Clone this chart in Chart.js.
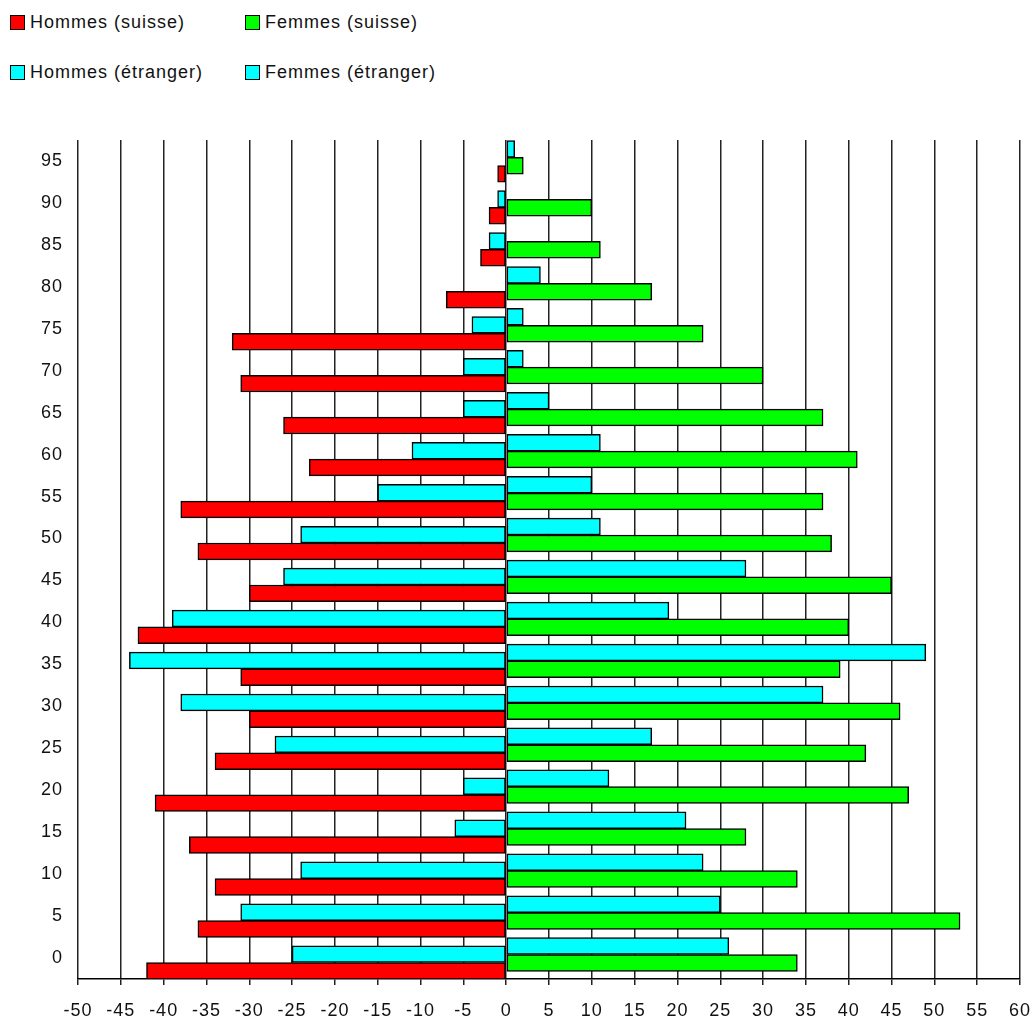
<!DOCTYPE html>
<html lang="fr">
<head>
  <meta charset="UTF-8">
  <title>Pyramide des âges</title>
  <script src="https://cdn.jsdelivr.net/npm/chart.js"></script>
  <style>
    body {
      margin: 0;
      background: #ffffff;
      font-family: 'Liberation Sans', Arial, sans-serif;
      overflow: hidden;
    }
    #wrap {
      position: relative;
      width: 1034px;
      height: 1019px;
    }
    #chart {
      position: absolute;
      left: 0;
      top: 0;
    }
    /* legend: 2 columns, 2 rows */
    #legend {
      position: absolute;
      left: 10px;
      top: 12px;
      display: grid;
      grid-template-columns: 235px 235px;
      grid-auto-rows: 50px;
    }
    .item {
      display: flex;
      align-items: flex-start;
      height: 20px;
      font-size: 18px;
      line-height: 20px;
      letter-spacing: 1px;
      color: #111;
      white-space: nowrap;
    }
    .item .box {
      width: 13px;
      height: 13px;
      border: 1px solid #000;
      margin: 3px 5px 0 0;
    }
  </style>
</head>
<body>
<div id="wrap">
  <div id="legend"></div>
  <canvas id="chart" width="1034" height="1019"></canvas>
</div>

<script>
  // classes d'âge (axe vertical)
  const ages = [0, 5, 10, 15, 20, 25, 30, 35, 40, 45, 50, 55, 60, 65, 70, 75, 80, 85, 90, 95];

  // hommes à gauche (valeurs négatives), femmes à droite
  const hommesSuisse   = [-42, -36, -34, -37, -41, -34, -30, -31, -43, -30, -36, -38, -23, -26, -31, -32, -7, -3, -2, -1];
  const hommesEtranger = [-25, -31, -24, -6, -5, -27, -38, -44, -39, -26, -24, -15, -11, -5, -5, -4, 0, -2, -1, 0];
  const femmesSuisse   = [34, 53, 34, 28, 47, 42, 46, 39, 40, 45, 38, 37, 41, 37, 30, 23, 17, 11, 10, 2];
  const femmesEtranger = [26, 25, 23, 21, 12, 17, 37, 49, 19, 28, 11, 10, 11, 5, 2, 2, 4, 0, 0, 1];

  const xTicksMin = -50;
  const xTicksMax = 60;
  const xStep = 5;

  const ageTicks = s => { s.ticks = ages.map(v => ({ value: v })); };

  // stack name only decides the slot inside a group (étranger on top)
  const bar = (label, data, color, axis, slot) => ({
    label: label,
    data: data,
    yAxisID: axis,
    xAxisID: 'x',
    stack: slot,
    backgroundColor: color,
    borderColor: '#000',
    borderWidth: 1.5,
    borderSkipped: false,
    barThickness: 16.8
  });

  // letter spacing for canvas text, like the old Excel rendering
  const spacing = {
    id: 'spacing',
    beforeDraw(chart) { chart.ctx.letterSpacing = '1px'; }
  };

  const tickFont = { family: "'Liberation Sans', Arial, sans-serif", size: 18 };

  const ctx = document.getElementById('chart').getContext('2d');
  const chart = new Chart(ctx, {
    type: 'bar',
    data: {
      labels: ages,
      datasets: [
        bar('Hommes (étranger)', hommesEtranger, '#00ffff', 'yM', 'etranger'),
        bar('Hommes (suisse)', hommesSuisse, '#ff0000', 'yM', 'suisse'),
        bar('Femmes (étranger)', femmesEtranger, '#00ffff', 'yW', 'etranger'),
        bar('Femmes (suisse)', femmesSuisse, '#00ff00', 'yW', 'suisse')
      ]
    },
    options: {
      indexAxis: 'y',
      responsive: false,
      animation: false,
      layout: { padding: { top: 140, right: 2, left: 0, bottom: 0 } },
      plugins: {
        legend: { display: false },
        tooltip: { enabled: false }
      },
      scales: {
        x: {
          type: 'linear',
          position: 'bottom',
          stacked: false,
          min: xTicksMin,
          max: xTicksMax,
          ticks: {
            stepSize: xStep,
            autoSkip: false,
            maxRotation: 0,
            padding: 15,
            color: '#111',
            font: tickFont
          },
          grid: { color: '#222', lineWidth: 1.5, tickLength: 6 },
          border: { display: true, color: '#000', width: 1.5 },
          afterFit: s => { s.height = 40; s.paddingRight = 14; s.paddingLeft = 0; }
        },
        // visible age axis (band centres)
        y: {
          type: 'linear',
          position: 'left',
          offset: false,
          min: -2.5,
          max: 97.5,
          afterBuildTicks: ageTicks,
          ticks: {
            padding: 15,
            color: '#111',
            font: tickFont
          },
          grid: { display: false, drawTicks: false, offset: false },
          border: { display: false },
          afterFit: s => { s.width = 78; }
        },
        // men groups sit at the bottom of each band, women a bit higher.
        // with two index axes v4 moves the first axis' group up by one bar,
        // so yM is shifted down by that much
        yM: {
          type: 'linear',
          position: 'left',
          display: false,
          offset: false,
          grid: { offset: false },
          min: 0.04,
          max: 100.04,
          afterBuildTicks: ageTicks
        },
        yW: {
          type: 'linear',
          position: 'left',
          display: false,
          offset: false,
          grid: { offset: false },
          min: -2.92,
          max: 97.08,
          afterBuildTicks: ageTicks
        }
      }
    },
    plugins: [spacing]
  });

  // legend in the original order: suisse row, then étranger row
  const legendOrder = ['Hommes (suisse)', 'Femmes (suisse)', 'Hommes (étranger)', 'Femmes (étranger)'];
  const legend = document.getElementById('legend');
  legendOrder.forEach(name => {
    const ds = chart.data.datasets.find(d => d.label === name);
    const item = document.createElement('div');
    item.className = 'item';
    const box = document.createElement('span');
    box.className = 'box';
    box.style.background = ds.backgroundColor;
    const txt = document.createElement('span');
    txt.textContent = ds.label;
    item.appendChild(box);
    item.appendChild(txt);
    legend.appendChild(item);
  });
</script>
</body>
</html>
